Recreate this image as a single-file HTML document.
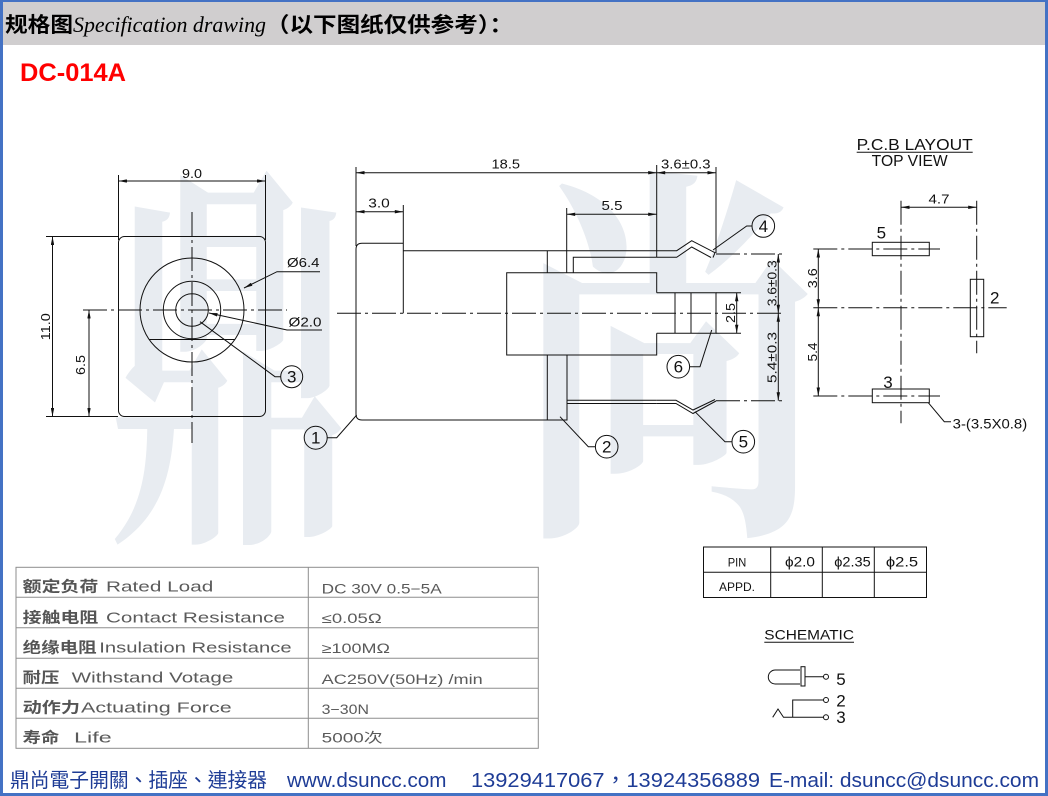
<!DOCTYPE html>
<html><head><meta charset="utf-8"><style>
html,body{margin:0;padding:0;background:#fff;}
svg{display:block;}
.d line,.d path,.d polyline,.d rect,.d circle{fill:none;stroke:#111;stroke-width:1;}
.cl{stroke-dasharray:24 4 3 4;}
.t{font-family:"Liberation Sans",sans-serif;font-size:13px;fill:#111;}
.n{font-family:"Liberation Sans",sans-serif;font-size:17px;fill:#111;text-anchor:middle;}
.g{font-family:"Liberation Sans","Noto Sans CJK SC",sans-serif;fill:#5a5a5a;}
</style></head><body>
<svg width="1048" height="796" viewBox="0 0 1048 796" xmlns="http://www.w3.org/2000/svg">
<defs>
<marker id="a" viewBox="0 0 10 4" refX="10" refY="2" markerWidth="10" markerHeight="3.4" markerUnits="userSpaceOnUse" orient="auto-start-reverse"><path d="M0,0L10,2L0,4z" fill="#111"/></marker>
</defs>
<rect width="1048" height="796" fill="#fff"/>

<!-- watermark -->
<g fill="#e8ecf1" font-family="'Noto Serif CJK SC',serif" font-weight="700" font-size="100">
<text transform="translate(105.5,509) scale(2.5,4)">鼎</text>
<text transform="translate(514.5,503) scale(3.1,3.9)">尚</text>
</g>

<!-- header -->
<rect x="0" y="0" width="1048" height="45" fill="#d0cecf"/>
<text x="5" y="32" font-family="'Noto Sans CJK SC',sans-serif" font-weight="700" font-size="21" textLength="68" lengthAdjust="spacingAndGlyphs" fill="#000">规格图</text>
<text x="73" y="32" font-family="'Liberation Serif',serif" font-style="italic" font-size="22" textLength="193" lengthAdjust="spacingAndGlyphs" fill="#000">Specification drawing</text>
<text x="266" y="32" font-family="'Noto Sans CJK SC',sans-serif" font-weight="700" font-size="21" textLength="247" lengthAdjust="spacingAndGlyphs" fill="#000">（以下图纸仅供参考）：</text>
<text x="20" y="81" font-family="'Liberation Sans',sans-serif" font-weight="700" font-size="25" fill="#ff0000" textLength="106" lengthAdjust="spacingAndGlyphs">DC-014A</text>

<g class="d">
<!-- front view -->
<rect x="118.5" y="236.5" width="147" height="180" rx="6"/>
<line x1="118.5" y1="175" x2="118.5" y2="240"/>
<line x1="265.5" y1="175" x2="265.5" y2="240"/>
<line x1="118.5" y1="181" x2="265.5" y2="181" marker-start="url(#a)" marker-end="url(#a)"/>
<line x1="46" y1="236.5" x2="118" y2="236.5"/>
<line x1="46" y1="416.5" x2="118" y2="416.5"/>
<line x1="52.5" y1="236.5" x2="52.5" y2="416.5" marker-start="url(#a)" marker-end="url(#a)"/>
<line x1="89" y1="310" x2="89" y2="416.5" marker-start="url(#a)" marker-end="url(#a)"/>
<line class="cl" x1="83" y1="310" x2="287" y2="310"/>
<line class="cl" x1="192" y1="212" x2="192" y2="443"/>
<circle cx="192" cy="310" r="52"/>
<circle cx="192" cy="310" r="28.7"/>
<circle cx="192" cy="310" r="16.3"/>
<line x1="149.5" y1="339.5" x2="234.5" y2="339.5"/>
<polyline points="320,271.7 277,271.7 244,288" marker-end="url(#a)"/>
<polyline points="322,330 287,330 209,313" marker-end="url(#a)"/>
<polyline points="280.5,376.7 275,376.7 200,321.7"/>
<circle cx="291.7" cy="376.7" r="11"/>

<!-- side view dims -->
<line x1="356" y1="167" x2="356" y2="246"/>
<line x1="356" y1="172.7" x2="656.7" y2="172.7" marker-start="url(#a)" marker-end="url(#a)"/>
<line x1="656.7" y1="165" x2="656.7" y2="257.3"/>
<line x1="716" y1="167" x2="716" y2="253"/>
<line x1="656.7" y1="172.7" x2="716" y2="172.7" marker-start="url(#a)" marker-end="url(#a)"/>
<line x1="356" y1="211.7" x2="403.3" y2="211.7" marker-start="url(#a)" marker-end="url(#a)"/>
<line x1="403.3" y1="205" x2="403.3" y2="313.3"/>
<line x1="566.7" y1="214.3" x2="656.7" y2="214.3" marker-start="url(#a)" marker-end="url(#a)"/>
<line x1="566.7" y1="208" x2="566.7" y2="272.7"/>

<!-- body -->
<path d="M403.3,243.3 H362 Q356,243.3 356,249.3 V414 Q356,420 362,420 H567"/>
<line x1="403.3" y1="250.7" x2="656.7" y2="250.7"/>
<line x1="547.3" y1="250.7" x2="547.3" y2="272.7"/>
<path d="M656.7,292.7 V272.7 H506.7 V355 H656.7 V333.3"/>
<path d="M656.7,292.7 H716 V333.3 H656.7"/>
<line x1="675" y1="292.7" x2="675" y2="333.3"/>
<line x1="691" y1="292.7" x2="691" y2="333.3"/>
<rect x="547.3" y="355" width="19.7" height="65"/>
<path d="M573.3,272.7 V257.3 H656.7"/>
<path d="M656.7,250.7 H676.7 L691.7,240.7 L715,252.7 L713,257.5"/>
<path d="M656.7,257.3 H676.7 L691.7,247 L711,257.5"/>
<line x1="567" y1="400.3" x2="656.7" y2="400.3"/>
<line x1="567" y1="403.5" x2="656.7" y2="403.5"/>
<path d="M656.7,400.3 H676 L693,410 L715,399.5"/>
<path d="M656.7,403.5 H676 L693,413.5 L716,401"/>

<line class="cl" x1="716" y1="254" x2="783" y2="254"/>
<line class="cl" x1="716" y1="400.7" x2="783" y2="400.7"/>
<line x1="778.3" y1="254" x2="778.3" y2="313.3" marker-start="url(#a)" marker-end="url(#a)"/>
<line x1="778.3" y1="313.3" x2="778.3" y2="400.7" marker-start="url(#a)" marker-end="url(#a)"/>
<line x1="716" y1="292.7" x2="741" y2="292.7"/>
<line x1="716" y1="333.3" x2="741" y2="333.3"/>
<line x1="736.7" y1="292.7" x2="736.7" y2="333.3" marker-start="url(#a)" marker-end="url(#a)"/>
<line class="cl" x1="337" y1="313.3" x2="783" y2="313.3"/>

<!-- balloons -->
<polyline points="327.2,437.7 336.7,437.7 356.7,415"/>
<circle cx="315.7" cy="437.7" r="11.5"/>
<polyline points="595.2,446.7 588.3,446.7 560,416.7"/>
<circle cx="606.7" cy="446.7" r="11.3"/>
<polyline points="752,226 746.7,226 713,250"/>
<circle cx="763.3" cy="226" r="11.3"/>
<polyline points="732,441.7 725,441.7 695,411.7"/>
<circle cx="743.3" cy="441.7" r="11.3"/>
<polyline points="689.6,366.7 700,366.7 711.7,330"/>
<circle cx="678.3" cy="366.7" r="11.3"/>

<!-- PCB layout -->
<line x1="856.7" y1="152.3" x2="972.7" y2="152.3"/>
<line x1="901" y1="207.3" x2="976.7" y2="207.3" marker-start="url(#a)" marker-end="url(#a)"/>
<line class="cl" x1="901" y1="200.7" x2="901" y2="423.3"/>
<line class="cl" x1="976.7" y1="200.7" x2="976.7" y2="353.3"/>
<line class="cl" x1="813.3" y1="249" x2="940" y2="249"/>
<line class="cl" x1="813.3" y1="307.7" x2="1006.7" y2="307.7"/>
<line class="cl" x1="813.3" y1="396" x2="940" y2="396"/>
<rect x="872.3" y="242.3" width="57" height="13.4"/>
<rect x="872.3" y="389" width="57" height="13.7"/>
<rect x="970.3" y="279.3" width="13.4" height="57.4"/>
<line x1="818.3" y1="249" x2="818.3" y2="307.7" marker-start="url(#a)" marker-end="url(#a)"/>
<line x1="818.3" y1="307.7" x2="818.3" y2="396" marker-start="url(#a)" marker-end="url(#a)"/>
<polyline points="928.3,402.7 944.3,421.7 951,421.7"/>

<!-- PIN table -->
<rect x="703.5" y="547" width="223" height="50.5" stroke-width="1.3"/>
<line x1="703.5" y1="572.3" x2="926.5" y2="572.3"/>
<line x1="770.7" y1="547" x2="770.7" y2="597.5"/>
<line x1="822.3" y1="547" x2="822.3" y2="597.5" stroke-width="1.5"/>
<line x1="874.3" y1="547" x2="874.3" y2="597.5"/>

<!-- schematic -->
<line x1="764.3" y1="642.3" x2="854" y2="642.3"/>
<path d="M800,670 H775.3 A7,7 0 0 0 775.3,684 H800"/>
<rect x="801" y="666.7" width="4" height="19.3"/>
<line x1="805" y1="676.7" x2="823.5" y2="676.7"/>
<circle cx="826" cy="676.7" r="2.5"/>
<path d="M823.5,700 H792.7 V717.3"/>
<circle cx="826" cy="700" r="2.5"/>
<path d="M772.7,717.3 L778,709 L783.5,717.3 H823.5"/>
<circle cx="826" cy="717.3" r="2.5"/>
</g>

<!-- drawing texts -->
<g class="t">
<text x="192" y="178" text-anchor="middle" textLength="20" lengthAdjust="spacingAndGlyphs">9.0</text>
<text transform="translate(50,326.7) rotate(-90)" text-anchor="middle" textLength="27" lengthAdjust="spacingAndGlyphs">11.0</text>
<text transform="translate(85,365) rotate(-90)" text-anchor="middle" textLength="20" lengthAdjust="spacingAndGlyphs">6.5</text>
<text x="287" y="267" textLength="32.5" lengthAdjust="spacingAndGlyphs">Ø6.4</text>
<text x="288.5" y="326.7" textLength="33" lengthAdjust="spacingAndGlyphs">Ø2.0</text>
<text x="505.8" y="168.3" text-anchor="middle" textLength="28.5" lengthAdjust="spacingAndGlyphs">18.5</text>
<text x="661" y="168.3" textLength="49.5" lengthAdjust="spacingAndGlyphs">3.6±0.3</text>
<text x="379" y="207.3" text-anchor="middle" textLength="21.5" lengthAdjust="spacingAndGlyphs">3.0</text>
<text x="612" y="210" text-anchor="middle" textLength="21" lengthAdjust="spacingAndGlyphs">5.5</text>
<text transform="translate(776.5,283.3) rotate(-90)" text-anchor="middle" textLength="46" lengthAdjust="spacingAndGlyphs">3.6±0.3</text>
<text transform="translate(776.5,357.5) rotate(-90)" text-anchor="middle" textLength="51" lengthAdjust="spacingAndGlyphs">5.4±0.3</text>
<text transform="translate(735,313) rotate(-90)" text-anchor="middle" textLength="20" lengthAdjust="spacingAndGlyphs">2.5</text>
<text x="939" y="203.3" text-anchor="middle" textLength="21" lengthAdjust="spacingAndGlyphs">4.7</text>
<text transform="translate(817,278.3) rotate(-90)" text-anchor="middle" textLength="20" lengthAdjust="spacingAndGlyphs">3.6</text>
<text transform="translate(817,352) rotate(-90)" text-anchor="middle" textLength="19" lengthAdjust="spacingAndGlyphs">5.4</text>
<text x="952.7" y="428.3" font-size="14" textLength="74.5" lengthAdjust="spacingAndGlyphs">3-(3.5X0.8)</text>
<text x="856.7" y="150" font-size="15.5" textLength="116" lengthAdjust="spacingAndGlyphs">P.C.B LAYOUT</text>
<text x="871.7" y="166" font-size="15.5" textLength="76" lengthAdjust="spacingAndGlyphs">TOP  VIEW</text>
<text x="764.3" y="639.5" font-size="14" textLength="89.7" lengthAdjust="spacingAndGlyphs">SCHEMATIC</text>
<text x="737" y="566.5" font-size="12" text-anchor="middle" textLength="18.5" lengthAdjust="spacingAndGlyphs">PIN</text>
<text x="737" y="591" font-size="12" text-anchor="middle" textLength="36" lengthAdjust="spacingAndGlyphs">APPD.</text>
<text x="800" y="566.5" font-size="14" text-anchor="middle" textLength="30" lengthAdjust="spacingAndGlyphs">ϕ2.0</text>
<text x="852.5" y="566.5" font-size="14" text-anchor="middle" textLength="36.4" lengthAdjust="spacingAndGlyphs">ϕ2.35</text>
<text x="902" y="566.5" font-size="14" text-anchor="middle" textLength="32.3" lengthAdjust="spacingAndGlyphs">ϕ2.5</text>
</g>
<g class="n">
<text x="315.7" y="443.7">1</text>
<text x="606.7" y="452.7">2</text>
<text x="291.7" y="382.7">3</text>
<text x="763.3" y="232">4</text>
<text x="743.3" y="447.7">5</text>
<text x="678.3" y="372.7">6</text>
<text x="881.3" y="238.5">5</text>
<text x="888" y="388">3</text>
<text x="994.7" y="303.3">2</text>
<text x="841" y="685">5</text>
<text x="841" y="706.7">2</text>
<text x="841" y="723">3</text>
</g>

<!-- spec table -->
<g fill="none" stroke="#8e8e8e" stroke-width="1">
<rect x="16" y="567.3" width="522.3" height="181"/>
<line x1="16" y1="597.3" x2="538.3" y2="597.3"/>
<line x1="16" y1="627.7" x2="538.3" y2="627.7"/>
<line x1="16" y1="658.3" x2="538.3" y2="658.3"/>
<line x1="16" y1="688.3" x2="538.3" y2="688.3"/>
<line x1="16" y1="718.3" x2="538.3" y2="718.3"/>
<line x1="308.3" y1="567.3" x2="308.3" y2="748.3"/>
</g>
<g class="g">
<g font-size="15" font-weight="700" font-family="'Noto Sans CJK SC',sans-serif" fill="#555">
<text x="22.7" y="591.7" textLength="75.6" lengthAdjust="spacingAndGlyphs">额定负荷</text>
<text x="22.7" y="622.3" textLength="75.6" lengthAdjust="spacingAndGlyphs">接触电阻</text>
<text x="22.7" y="652.3" textLength="74" lengthAdjust="spacingAndGlyphs">绝缘电阻</text>
<text x="22.7" y="682.3" textLength="36.6" lengthAdjust="spacingAndGlyphs">耐压</text>
<text x="22.7" y="712.7" textLength="57.3" lengthAdjust="spacingAndGlyphs">动作力</text>
<text x="22.7" y="742.7" textLength="36.6" lengthAdjust="spacingAndGlyphs">寿命</text>
</g>
<g font-size="15">
<text x="106" y="591.7" textLength="107.3" lengthAdjust="spacingAndGlyphs">Rated Load</text>
<text x="106" y="622.3" textLength="179" lengthAdjust="spacingAndGlyphs">Contact Resistance</text>
<text x="99.3" y="652.3" textLength="192.4" lengthAdjust="spacingAndGlyphs">Insulation Resistance</text>
<text x="71.7" y="682.3" textLength="161.6" lengthAdjust="spacingAndGlyphs">Withstand Votage</text>
<text x="81" y="712.7" textLength="150.7" lengthAdjust="spacingAndGlyphs">Actuating Force</text>
<text x="74" y="742.7" textLength="37.7" lengthAdjust="spacingAndGlyphs">Life</text>
</g>
<g font-size="13.5">
<text x="321.7" y="593.3" textLength="120" lengthAdjust="spacingAndGlyphs">DC 30V 0.5−5A</text>
<text x="321.7" y="623" textLength="60" lengthAdjust="spacingAndGlyphs">≤0.05Ω</text>
<text x="321.7" y="653" textLength="68.3" lengthAdjust="spacingAndGlyphs">≥100MΩ</text>
<text x="321.7" y="684" textLength="161" lengthAdjust="spacingAndGlyphs">AC250V(50Hz) /min</text>
<text x="321.7" y="714" textLength="47.3" lengthAdjust="spacingAndGlyphs">3−30N</text>
<text x="321.7" y="742.7" textLength="61" lengthAdjust="spacingAndGlyphs">5000次</text>
</g>
</g>

<!-- footer -->
<g font-family="'Liberation Sans','Noto Sans CJK TC',sans-serif" font-size="20" fill="#1e3c96">
<text x="10" y="787" textLength="257" lengthAdjust="spacingAndGlyphs">鼎尚電子開關、插座、連接器</text>
<text x="287" y="787" textLength="159.5" lengthAdjust="spacingAndGlyphs">www.dsuncc.com</text>
<text x="471" y="787" textLength="289" lengthAdjust="spacingAndGlyphs">13929417067，13924356889</text>
<text x="769" y="787" textLength="270" lengthAdjust="spacingAndGlyphs">E-mail: dsuncc@dsuncc.com</text>
</g>

<!-- blue frame -->
<rect x="0" y="0" width="1048" height="2" fill="#4472c4"/>
<rect x="0" y="0" width="3" height="796" fill="#4472c4"/>
<rect x="1045" y="0" width="3" height="796" fill="#4472c4"/>
<rect x="0" y="793" width="1048" height="3" fill="#4472c4"/>
</svg>
</body></html>
